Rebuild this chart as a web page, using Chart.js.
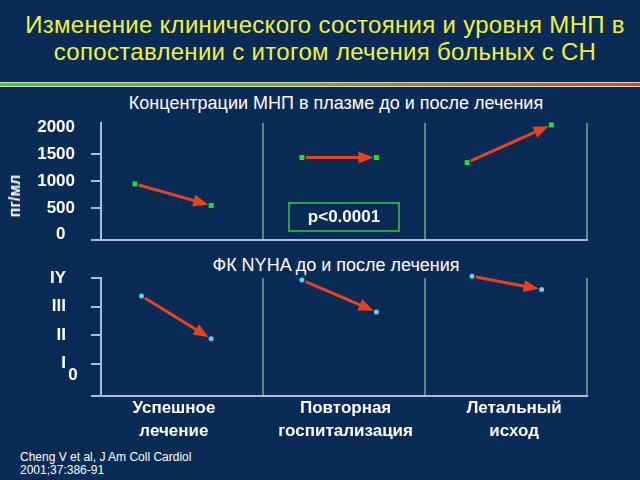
<!DOCTYPE html>
<html>
<head>
<meta charset="utf-8">
<script src="https://cdn.jsdelivr.net/npm/chart.js@4.4.1/dist/chart.umd.min.js"></script>
<style>
html, body { margin: 0; padding: 0; }
body {
    width: 640px; height: 480px; position: relative; overflow: hidden;
    background: #0b2b57; color: #fff;
    font-family: "Liberation Sans", Arial, sans-serif;
}
#title {
    position: absolute; left: 0; top: 11px; width: 650px;
    text-align: center; color: #f2f23c; font-size: 24px; line-height: 27px; letter-spacing: 0.3px;
}
#rule {
    position: absolute; left: 0; top: 82px; width: 640px; height: 3px;
    border-top: 1px solid #cfdccc; border-bottom: 1px solid #cfdccc;
    background: linear-gradient(to right, #3ccf3c, #8c9a3c 50%, #e0402e);
}
.sub { position: absolute; left: 0; width: 672px; text-align: center; font-size: 18px; line-height: 20px; }
#unit {
    position: absolute; left: 15px; top: 196px; white-space: nowrap;
    transform: translate(-50%, -50%) rotate(-90deg);
    font-size: 16px; font-weight: bold;
}
#pbox {
    position: absolute; left: 288px; top: 202px; width: 108px; height: 26px;
    border: 2px solid #2e9e4e; text-align: center;
    font-size: 17px; font-weight: bold; line-height: 26px;
}
#cite { position: absolute; left: 20px; top: 451px; font-size: 12px; line-height: 13px; }
canvas { position: absolute; left: 0; }
</style>
</head>
<body>
<div id="title">Изменение клинического состояния и уровня МНП в<br>сопоставлении с итогом лечения больных с СН</div>
<div id="rule"></div>
<div class="sub" style="top:93px">Концентрации МНП в плазме до и после лечения</div>
<div class="sub" style="top:255px">ФК NYHA до и после лечения</div>
<canvas id="mnp" width="640" height="140" style="top:110px"></canvas>
<canvas id="nyha" width="640" height="190" style="top:260px"></canvas>
<div id="unit">пг/мл</div>
<div id="pbox">p&lt;0.0001</div>
<div id="cite">Cheng V et al, J Am Coll Cardiol<br>2001;37:386-91</div>
<script>
// groups along x (0..3, one unit per group)
const groupLabels = [['Успешное', 'лечение'], ['Повторная', 'госпитализация'], ['Летальный', 'исход']];
const groupLabelX = [0.45, 1.51, 2.55];

// МНП, пг/мл
const mnpXBefore = [0.21, 1.24, 2.26];
const mnpXAfter = [0.68, 1.70, 2.78];
const mnpBefore = [948, 1440, 1347];
const mnpAfter = [545, 1440, 2049];
const mnpTicks = [-100, 0, 500, 1000, 1500, 2000];

// ФК NYHA
const nyhaXBefore = [0.25, 1.24, 2.29];
const nyhaXAfter = [0.68, 1.70, 2.72];
const nyhaBefore = [3.37, 3.93, 4.06];
const nyhaAfter = [1.87, 2.81, 3.60];
const nyhaTicks = [-0.135, 1, 2, 3, 4];
const nyhaTickLabels = ['', 'I', 'II', 'III', 'IY'];

const axisColor = '#a9bdd6';
const dividerColor = '#5f8c78';
const arrowColor = '#e8421e';
const font = 'Liberation Sans, Arial, sans-serif';

// red arrows from the "before" point to the "after" point
const arrowPlugin = {
    id: 'arrows',
    beforeDatasetsDraw(chart) {
        const a = chart.getDatasetMeta(0).data;
        const b = chart.getDatasetMeta(1).data;
        const ctx = chart.ctx;
        ctx.save();
        ctx.strokeStyle = arrowColor;
        ctx.fillStyle = arrowColor;
        ctx.lineWidth = 3;
        for (let i = 0; i < a.length; i++) {
            const dx = b[i].x - a[i].x, dy = b[i].y - a[i].y;
            const len = Math.hypot(dx, dy);
            const ux = dx / len, uy = dy / len;
            const x0 = a[i].x + ux * 4, y0 = a[i].y + uy * 4;
            const tx = b[i].x - ux * 3, ty = b[i].y - uy * 3;
            const hx = tx - ux * 15, hy = ty - uy * 15;
            ctx.beginPath();
            ctx.moveTo(x0, y0);
            ctx.lineTo(hx + ux * 2, hy + uy * 2);
            ctx.stroke();
            ctx.beginPath();
            ctx.moveTo(tx, ty);
            ctx.lineTo(hx - uy * 6, hy + ux * 6);
            ctx.lineTo(hx + uy * 6, hy - ux * 6);
            ctx.closePath();
            ctx.fill();
        }
        ctx.restore();
    }
};

// the small "0" under "I" on the NYHA axis
const zeroPlugin = {
    id: 'zeroLabel',
    afterDraw(chart) {
        const y = chart.scales.y;
        const ctx = chart.ctx;
        ctx.save();
        ctx.fillStyle = '#fff';
        ctx.font = 'bold 17px ' + font;
        ctx.textAlign = 'center';
        ctx.textBaseline = 'middle';
        ctx.fillText('0', chart.chartArea.left - 28, y.getPixelForValue(0.6));
        ctx.restore();
    }
};

function points(xs, ys) {
    return xs.map((x, i) => ({ x: x, y: ys[i] }));
}

// keep the plot area where the layout padding puts it
function noPad(s) {
    s.paddingTop = 0; s.paddingBottom = 0; s.paddingLeft = 0; s.paddingRight = 0;
}

function xScale(showLabels) {
    return {
        type: 'linear', min: 0, max: 3,
        afterBuildTicks: s => {
            const vals = showLabels ? [1, 2, 3].concat(groupLabelX).sort() : [1, 2, 3];
            s.ticks = vals.map(v => ({ value: v }));
        },
        afterFit: s => { s.height = showLabels ? 54 : 10; noPad(s); },
        grid: {
            drawTicks: false,
            lineWidth: 2,
            color: c => (c.tick && Number.isInteger(c.tick.value)) ? dividerColor : 'rgba(0,0,0,0)'
        },
        border: { display: true, color: axisColor, width: 2 },
        ticks: {
            display: showLabels,
            autoSkip: false, maxRotation: 0, padding: 1,
            color: '#fff',
            font: { family: font, size: 17, weight: 'bold', lineHeight: 1.35 },
            callback: v => {
                const i = groupLabelX.indexOf(v);
                return i >= 0 ? groupLabels[i] : '';
            }
        }
    };
}

const common = {
    responsive: false,
    animation: false,
    plugins: { legend: { display: false }, tooltip: { enabled: false } },
};

new Chart(document.getElementById('mnp'), {
    type: 'scatter',
    data: {
        datasets: [
            { label: 'до', data: points(mnpXBefore, mnpBefore), pointStyle: 'rect', pointRadius: 3.5,
              backgroundColor: '#22e022', borderWidth: 0, clip: false },
            { label: 'после', data: points(mnpXAfter, mnpAfter), pointStyle: 'rect', pointRadius: 3.5,
              backgroundColor: '#22e022', borderWidth: 0, clip: false }
        ]
    },
    options: Object.assign({}, common, {
        layout: { autoPadding: false, padding: { top: 13, right: 53, left: 0, bottom: 0 } },
        scales: {
            x: xScale(false),
            y: {
                min: -100, max: 2085,
                afterBuildTicks: s => { s.ticks = mnpTicks.map(v => ({ value: v })); },
                afterFit: s => { s.width = 101; noPad(s); },
                grid: {
                    drawOnChartArea: false, tickLength: 10, lineWidth: 2,
                    color: c => (c.tick && [-100, 500, 1000, 1500].includes(c.tick.value)) ? axisColor : 'rgba(0,0,0,0)'
                },
                border: { display: true, color: axisColor, width: 2 },
                ticks: {
                    autoSkip: false, padding: 16, color: '#fff',
                    font: { family: font, size: 17, weight: 'bold' },
                    callback: v => v < 0 ? '' : (v === 0 ? '0\u00a0\u00a0' : String(v))
                }
            }
        }
    }),
    plugins: [arrowPlugin]
});

new Chart(document.getElementById('nyha'), {
    type: 'scatter',
    data: {
        datasets: [
            { label: 'до', data: points(nyhaXBefore, nyhaBefore), pointRadius: 2.5,
              backgroundColor: '#5cd6e8', borderWidth: 0, clip: false },
            { label: 'после', data: points(nyhaXAfter, nyhaAfter), pointRadius: 2.5,
              backgroundColor: '#5cd6e8', borderWidth: 0, clip: false }
        ]
    },
    options: Object.assign({}, common, {
        layout: { autoPadding: false, padding: { top: 18, right: 53, left: 0, bottom: 0 } },
        scales: {
            x: xScale(true),
            y: {
                min: -0.135, max: 4,
                afterBuildTicks: s => { s.ticks = nyhaTicks.map(v => ({ value: v })); },
                afterFit: s => { s.width = 101; noPad(s); },
                grid: {
                    drawOnChartArea: false, tickLength: 10, lineWidth: 2,
                    color: axisColor
                },
                border: { display: true, color: axisColor, width: 2 },
                ticks: {
                    autoSkip: false, padding: 25, color: '#fff',
                    font: { family: font, size: 17, weight: 'bold' },
                    callback: (v, i) => nyhaTickLabels[i]
                }
            }
        }
    }),
    plugins: [arrowPlugin, zeroPlugin]
});
</script>
</body>
</html>
